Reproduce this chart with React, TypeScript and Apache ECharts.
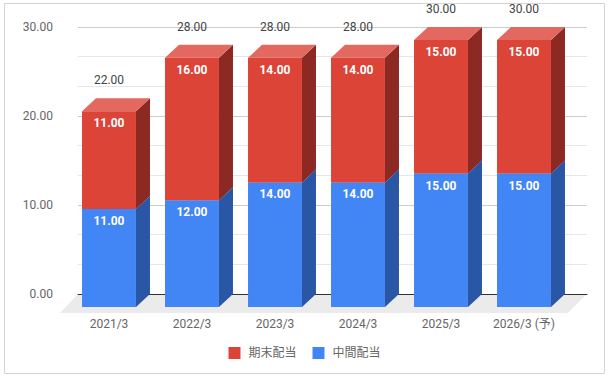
import React, { useEffect, useRef } from "react";
import * as echarts from "echarts";

const categories = ["2021/3", "2022/3", "2023/3", "2024/3", "2025/3", "2026/3 (予)"];
const interim = [11, 12, 14, 14, 15, 15]; // 中間配当
const yearEnd = [11, 16, 14, 14, 15, 15]; // 期末配当
const yTicks = [0, 10, 20, 30];

const FONT = 'Roboto, "Noto Sans CJK JP", sans-serif';
const DX = 14;
const DY = 13;

function barRender(front: string, side: string, top: string) {
  return (params: any, api: any) => {
    const i = api.value(0);
    const b = api.value(1);
    const t = api.value(2);
    const v = api.value(3);
    const p0 = api.coord([i, b]);
    const p1 = api.coord([i, t]);
    const w = api.size([1, 0])[0] * 0.65;
    const x0 = p0[0] - w / 2;
    const x1 = p0[0] + w / 2;
    const yb = p0[1];
    const yt = p1[1];
    return {
      type: "group",
      children: [
        {
          type: "polygon",
          shape: { points: [[x1, yt], [x1 + DX, yt - DY], [x1 + DX, yb - DY], [x1, yb]] },
          style: { fill: side },
        },
        {
          type: "polygon",
          shape: { points: [[x0, yt], [x1, yt], [x1 + DX, yt - DY], [x0 + DX, yt - DY]] },
          style: { fill: top },
        },
        {
          type: "rect",
          shape: { x: x0, y: yt, width: w, height: yb - yt },
          style: { fill: front },
        },
        {
          type: "text",
          x: p0[0],
          y: yt + 12,
          style: {
            text: Number(v).toFixed(2),
            fill: "#ffffff",
            fontFamily: FONT,
            fontSize: 12,
            fontWeight: "bold",
            align: "center",
            verticalAlign: "middle",
          },
        },
      ],
    };
  };
}

export default function App() {
  const ref = useRef<HTMLDivElement>(null);
  useEffect(() => {
    if (!ref.current) return;
    const chart = echarts.init(ref.current, undefined, { renderer: "svg" });
    const blueData = categories.map((_, i) => [i, 0, interim[i], interim[i]]);
    const redData = categories.map((_, i) => [i, interim[i], interim[i] + yearEnd[i], yearEnd[i]]);
    const totalData = categories.map((_, i) => [i, interim[i] + yearEnd[i]]);
    chart.setOption({
      animation: false,
      textStyle: { fontFamily: FONT },
      graphic: [
        {
          type: "rect",
          shape: { x: 4.5, y: 3.5, width: 600, height: 370 },
          style: { fill: "none", stroke: "#d4d4d4", lineWidth: 1 },
          silent: true,
        },
      ],
      legend: {
        data: ["期末配当", "中間配当"],
        top: 342,
        left: "center",
        icon: "rect",
        itemWidth: 12,
        itemHeight: 12,
        itemGap: 16,
        textStyle: { fontSize: 12, color: "#666", fontFamily: FONT, padding: [0, 0, 0, 3] },
      },
      grid: [
        { left: 78, top: 27, width: 509, height: 267 },
        { left: 67.5, top: 40, width: 498, height: 267 },
      ],
      xAxis: [
        {
          type: "value",
          gridIndex: 0,
          min: 0,
          max: 1,
          z: 1,
          axisLine: { show: true, onZero: false, lineStyle: { color: "#333", width: 1 } },
          axisTick: { show: false },
          axisLabel: { show: false },
          splitLine: { show: false },
        },
        {
          type: "category",
          gridIndex: 1,
          data: categories,
          axisLine: { show: false },
          axisTick: { show: false },
          axisLabel: { color: "#666", fontSize: 12, margin: 11, fontFamily: FONT },
          splitLine: { show: false },
        },
      ],
      yAxis: [
        {
          type: "value",
          gridIndex: 0,
          min: yTicks[0],
          max: yTicks[yTicks.length - 1],
          interval: 10,
          axisLine: { show: false },
          axisTick: { show: false },
          axisLabel: {
            color: "#666",
            fontSize: 12,
            margin: 25,
            fontFamily: FONT,
            formatter: (v: number) => v.toFixed(2),
          },
          splitLine: { lineStyle: { color: "#cccccc" } },
          minorTick: { show: false, splitNumber: 3 },
          minorSplitLine: { show: true, lineStyle: { color: "#e6e6e6" } },
        },
        {
          type: "value",
          gridIndex: 1,
          min: 0,
          max: 30,
          show: false,
        },
      ],
      series: [
        {
          type: "custom",
          name: "floor",
          xAxisIndex: 0,
          yAxisIndex: 0,
          z: 0,
          silent: true,
          data: [[0, 0]],
          renderItem: (params: any, api: any) => {
            const a = api.coord([0, 0]);
            const b = api.coord([1, 0]);
            return {
              type: "polygon",
              shape: {
                points: [
                  [a[0], a[1]],
                  [b[0], b[1]],
                  [b[0] - 19, b[1] + 19],
                  [a[0] - 18, a[1] + 19],
                ],
              },
              style: { fill: "#ebebeb" },
            };
          },
        },
        {
          type: "custom",
          name: "中間配当",
          xAxisIndex: 1,
          yAxisIndex: 1,
          z: 3,
          itemStyle: { color: "#4285f4" },
          data: blueData,
          renderItem: barRender("#4285f4", "#2a56a6", "#6b9ef6"),
        },
        {
          type: "custom",
          name: "期末配当",
          xAxisIndex: 1,
          yAxisIndex: 1,
          z: 4,
          itemStyle: { color: "#db4437" },
          data: redData,
          renderItem: barRender("#db4437", "#8c2922", "#e3685f"),
        },
        {
          type: "custom",
          name: "total",
          xAxisIndex: 1,
          yAxisIndex: 1,
          z: 5,
          silent: true,
          data: totalData,
          renderItem: (params: any, api: any) => {
            const i = api.value(0);
            const v = api.value(1);
            const p = api.coord([i, v]);
            return {
              type: "text",
              x: p[0],
              y: p[1] - 31,
              style: {
                text: Number(v).toFixed(2),
                fill: "#444",
                fontFamily: FONT,
                fontSize: 12,
                align: "center",
                verticalAlign: "middle",
              },
            };
          },
        },
      ],
    });
    return () => chart.dispose();
  }, []);
  return (
    <div
      ref={ref}
      style={{ position: "absolute", left: 0, top: 0, width: 609, height: 378, background: "#fff" }}
    />
  );
}
